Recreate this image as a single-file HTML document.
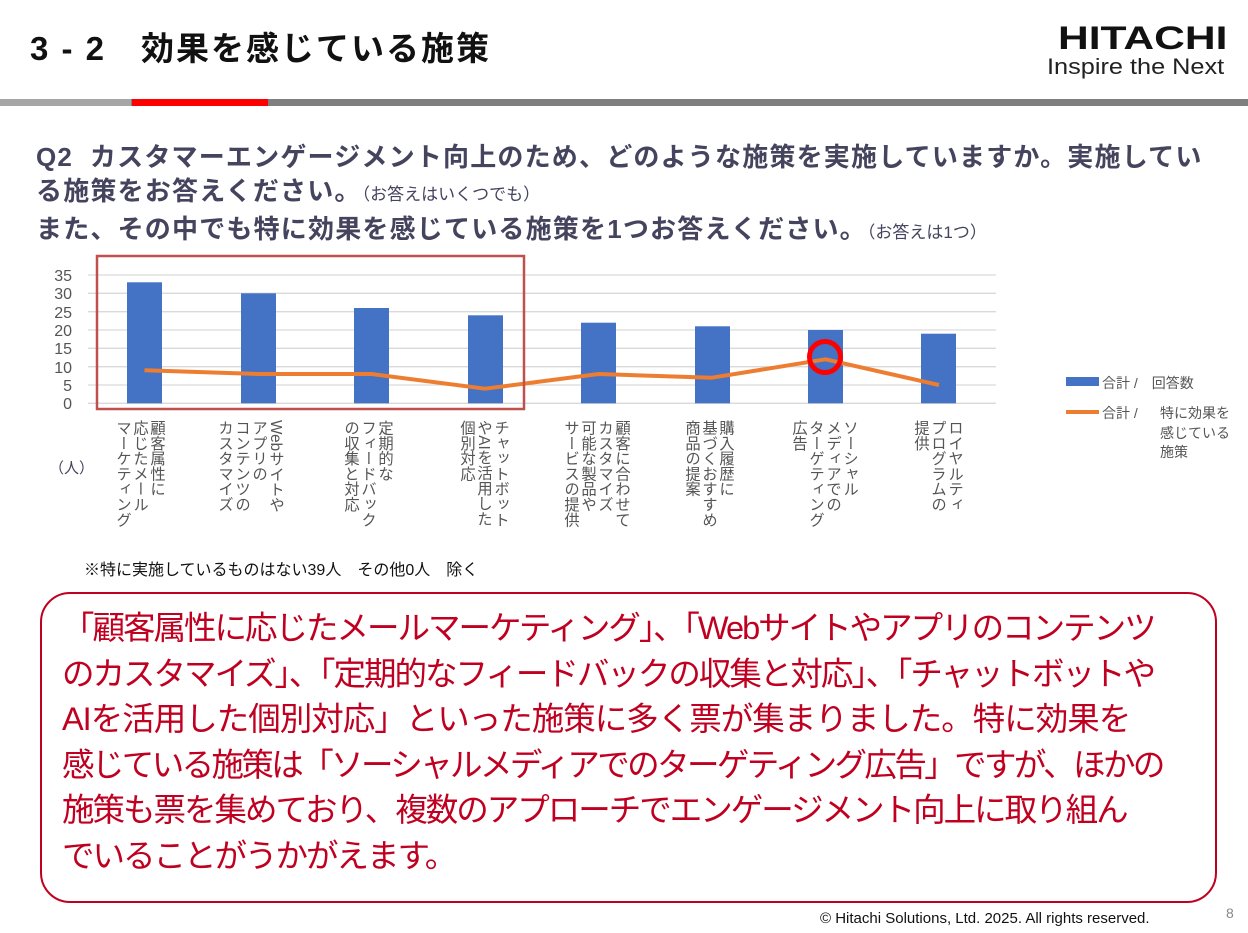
<!DOCTYPE html>
<html><head><meta charset="utf-8"><style>
body{margin:0;width:1248px;height:933px;background:#fff;position:relative;overflow:hidden;font-family:"Liberation Sans","Noto Sans CJK JP",sans-serif;}
.a{position:absolute;white-space:nowrap}
.v{position:absolute;writing-mode:vertical-rl;font-size:15.3px;line-height:17px;color:#555;top:420px}
</style></head><body>
<div class="a" style="left:30px;top:22px;font-size:33px;font-weight:bold;color:#111;letter-spacing:2px">3 - 2　効果を感じている施策</div>
<div class="a" style="left:1058px;top:20px;font-size:32px;font-weight:bold;color:#111;transform:scaleX(1.33);transform-origin:left top">HITACHI</div>
<div class="a" style="left:1047px;top:54px;font-size:22px;color:#222;transform:scaleX(1.15);transform-origin:left top">Inspire the Next</div>
<div class="a" style="left:0;top:99px;width:1248px;height:7px;background:#7f7f7f"></div>
<div class="a" style="left:0;top:99px;width:131px;height:7px;background:#a6a6a6"></div>
<div class="a" style="left:132px;top:99px;width:136px;height:7px;background:#ff0000"></div>
<div class="a" style="left:36px;top:140px;font-size:26px;font-weight:bold;color:#44445e;line-height:34px;letter-spacing:1.2px">Q2&nbsp; カスタマーエンゲージメント向上のため、どのような施策を実施していますか。実施してい<br>る施策をお答えください。<span style="font-size:17px;font-weight:normal;letter-spacing:0">（お答えはいくつでも）</span><br>また、その中でも特に効果を感じている施策を1つお答えください。<span style="font-size:17px;font-weight:normal;letter-spacing:0">（お答えは1つ）</span></div>
<svg class="a" style="left:0;top:0" width="1248" height="600">
<g stroke="#d9d9d9" stroke-width="1.3">
<line x1="88" x2="996" y1="275" y2="275"/><line x1="88" x2="996" y1="293.3" y2="293.3"/><line x1="88" x2="996" y1="311.7" y2="311.7"/><line x1="88" x2="996" y1="330" y2="330"/><line x1="88" x2="996" y1="348.3" y2="348.3"/><line x1="88" x2="996" y1="366.7" y2="366.7"/><line x1="88" x2="996" y1="385" y2="385"/><line x1="88" x2="996" y1="403.3" y2="403.3"/>
</g>
<g font-size="16" fill="#555" text-anchor="end" font-family="Liberation Sans,sans-serif">
<text x="72" y="281">35</text><text x="72" y="299">30</text><text x="72" y="318">25</text><text x="72" y="336">20</text><text x="72" y="354">15</text><text x="72" y="373">10</text><text x="72" y="391">5</text><text x="72" y="409">0</text>
</g>
<g fill="#4472c4">
<rect x="127" y="282.3" width="35" height="121"/><rect x="241" y="293.3" width="35" height="110"/><rect x="354" y="308" width="35" height="95.3"/><rect x="468" y="315.3" width="35" height="88"/><rect x="581" y="322.7" width="35" height="80.6"/><rect x="695" y="326.3" width="35" height="77"/><rect x="808" y="330" width="35" height="73.3"/><rect x="921" y="333.7" width="35" height="69.6"/>
</g>
<polyline fill="none" stroke="#ed7d31" stroke-width="4" stroke-linejoin="round" points="144.5,370.3 258,374 371.5,374 485,388.7 598.5,374 712,377.7 825.5,359.3 939,385"/>
<rect x="97" y="256" width="427" height="153" fill="none" stroke="#c0504d" stroke-width="2.5"/>
<circle cx="825" cy="357" r="15.5" fill="none" stroke="#ff0000" stroke-width="5"/>
<rect x="1066" y="377" width="33" height="9" fill="#4472c4"/>
<line x1="1066" x2="1099" y1="412" y2="412" stroke="#ed7d31" stroke-width="4"/>
<g font-size="14" fill="#555" font-family="Liberation Sans,Noto Sans CJK JP,sans-serif">
<text x="1102" y="388">合計 /　回答数</text><text x="1102" y="418">合計 /</text>
<text x="1160" y="418">特に効果を</text><text x="1160" y="438">感じている</text><text x="1160" y="457">施策</text>
</g>
</svg>
<div class="a" style="left:49px;top:457px;font-size:15px;color:#44445e">（人）</div>
<div class="v" style="left:114px">顧客属性に<br>応じたメール<br>マーケティング</div>
<div class="v" style="left:216px">Webサイトや<br>アプリの<br>コンテンツの<br>カスタマイズ</div>
<div class="v" style="left:342px">定期的な<br>フィードバック<br>の収集と対応</div>
<div class="v" style="left:458px">チャットボット<br>やAIを活用した<br>個別対応</div>
<div class="v" style="left:562px">顧客に合わせて<br>カスタマイズ<br>可能な製品や<br>サービスの提供</div>
<div class="v" style="left:683px">購入履歴に<br>基づくおすすめ<br>商品の提案</div>
<div class="v" style="left:790px">ソーシャル<br>メディアでの<br>ターゲティング<br>広告</div>
<div class="v" style="left:912px">ロイヤルティ<br>プログラムの<br>提供</div>
<div class="a" style="left:84px;top:556px;font-size:16px;color:#111">※特に実施しているものはない39人　その他0人　除く</div>
<div class="a" style="left:40px;top:592px;width:1177px;height:311px;border:2px solid #c00020;border-radius:30px;box-sizing:border-box"></div>
<div class="a" style="left:62px;top:606px;font-size:32.5px;line-height:45.5px;color:#c00020;letter-spacing:-2px">「顧客属性に応じたメールマーケティング」、「Webサイトやアプリのコンテンツ<br>のカスタマイズ」、「定期的なフィードバックの収集と対応」、「チャットボットや<br><span style="letter-spacing:-1px">AIを活用した個別対応」といった施策に多く票が集まりました。特に効果を</span><br><span style="letter-spacing:-2.6px">感じている施策は「ソーシャルメディアでのターゲティング広告」ですが、ほかの</span><br>施策も票を集めており、複数のアプローチでエンゲージメント向上に取り組ん<br>でいることがうかがえます。</div>
<div class="a" style="left:820px;top:910px;font-size:15px;color:#111">© Hitachi Solutions, Ltd. 2025. All rights reserved.</div>
<div class="a" style="left:1226px;top:905px;font-size:14px;color:#888">8</div>
</body></html>
